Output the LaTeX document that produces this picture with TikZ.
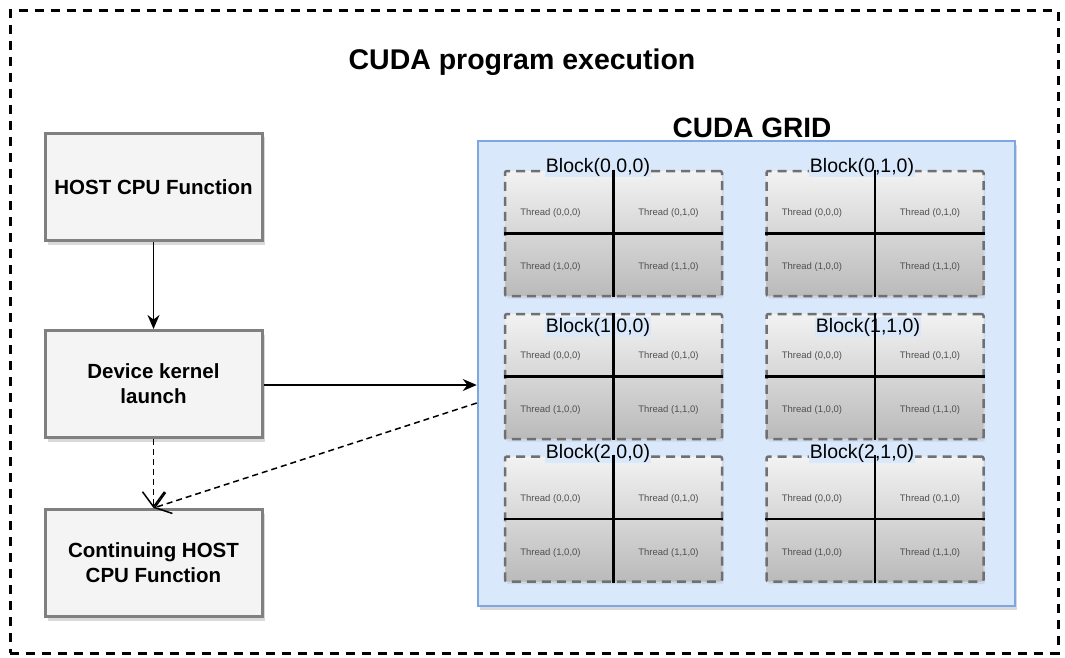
\documentclass[tikz,border=0pt]{standalone}
\usepackage{fontspec}
\setmainfont{Liberation Sans}
\usetikzlibrary{arrows.meta,shadows,calc}
\definecolor{boxfill}{HTML}{F4F4F4}
\definecolor{boxdraw}{HTML}{808080}
\definecolor{gridfill}{HTML}{DAE8FC}
\definecolor{griddraw}{HTML}{7EA6E0}
\definecolor{blkdraw}{HTML}{707070}
\definecolor{thr}{HTML}{505050}
\begin{document}
\begin{tikzpicture}[x=1pt,y=-1pt,
  shadowed/.style={drop shadow={shadow xshift=3pt,shadow yshift=-4pt,opacity=0.25,fill=black!60}},
  hostbox/.style={draw=boxdraw,line width=3pt,fill=boxfill,shadowed,minimum width=217pt,minimum height=107pt,align=center,font=\bfseries\fontsize{20.5}{25}\selectfont,inner sep=0pt},
  blockbox/.style={draw=blkdraw,line width=2.5pt,dash pattern=on 9pt off 6pt,top color=black!5,bottom color=black!27,minimum width=217pt,minimum height=125pt,rounded corners=2pt,inner sep=0pt,drop shadow={shadow xshift=1.5pt,shadow yshift=-2.5pt,opacity=0.15}},
  blklabel/.style={fill=gridfill,inner sep=1pt,font=\fontsize{19.5}{22}\selectfont},
  thread/.style={font=\fontsize{9.5}{11}\selectfont,text=thr,inner sep=0pt},
  crossline/.style={line width=2.8pt,black},
  solidarrow/.style={line width=1.5pt,-{Stealth[length=14pt,width=12pt]}},
  dasharrow/.style={line width=1.5pt,dash pattern=on 6pt off 4pt,-{Straight Barb[length=15pt,width=22pt]}}
]
\useasboundingbox (0,0) rectangle (1065,658);
% outer frame
\node[draw=black,line width=3pt,dash pattern=on 9pt off 7pt,minimum width=1048pt,minimum height=642pt,inner sep=0pt] (frame) at (534,332) {};
\node[font=\bfseries\fontsize{28.5}{32}\selectfont] (title) at (522,62) {CUDA program execution};
% host boxes
\node[hostbox] (host) at (153.5,187) {HOST CPU Function};
\node[hostbox] (dev) at (153.5,384) {Device kernel\\launch};
\node[hostbox] (cont) at (153.5,563) {Continuing HOST\\CPU Function};
% grid
\node[draw=griddraw,line width=2.5pt,fill=gridfill,minimum width=537pt,minimum height=465pt,inner sep=0pt,drop shadow={shadow xshift=2pt,shadow yshift=-4pt,opacity=0.3}] (grid) at (746.5,373.5) {};
\node[font=\bfseries\fontsize{28}{32}\selectfont] (gridlabel) at (752,128) {CUDA GRID};
% blocks
\foreach \name/\cx/\cy/\lx/\ly/\lbl in {
  b000/613.5/233.5/598/167/{Block(0,0,0)},
  b010/875/233.5/862/167/{Block(0,1,0)},
  b100/613.5/376.5/598/327/{Block(1,0,0)},
  b110/875/376.5/868/327/{Block(1,1,0)},
  b200/613.5/519/598/453/{Block(2,0,0)},
  b210/875/519/862/453/{Block(2,1,0)}}{
  \node[blockbox] (\name) at (\cx,\cy) {};
  \node[blklabel] (\name-l) at (\lx,\ly) {\lbl};
  \draw[crossline] (\name.north) -- (\name.south);
  \draw[crossline] (\name.west) -- (\name.east);
  \node[thread] (\name-t1) at ($(\name.center)+(-63,-20)$) {Thread (0,0,0)};
  \node[thread] (\name-t2) at ($(\name.center)+(55,-20)$) {Thread (0,1,0)};
  \node[thread] (\name-t3) at ($(\name.center)+(-63,34)$) {Thread (1,0,0)};
  \node[thread] (\name-t4) at ($(\name.center)+(55,34)$) {Thread (1,1,0)};
}
% connectors
\draw[solidarrow] (host.south) -- (dev.north);
\coordinate (gin) at ($(grid.west)+(0,11.5)$);
\coordinate (gout) at ($(grid.west)+(0,29.5)$);
\draw[solidarrow] (dev.east |- gin) -- (gin);
\draw[dasharrow] (dev.south) -- (cont.north);
\draw[dasharrow] (gout) -- (cont.north);
\end{tikzpicture}
\end{document}
